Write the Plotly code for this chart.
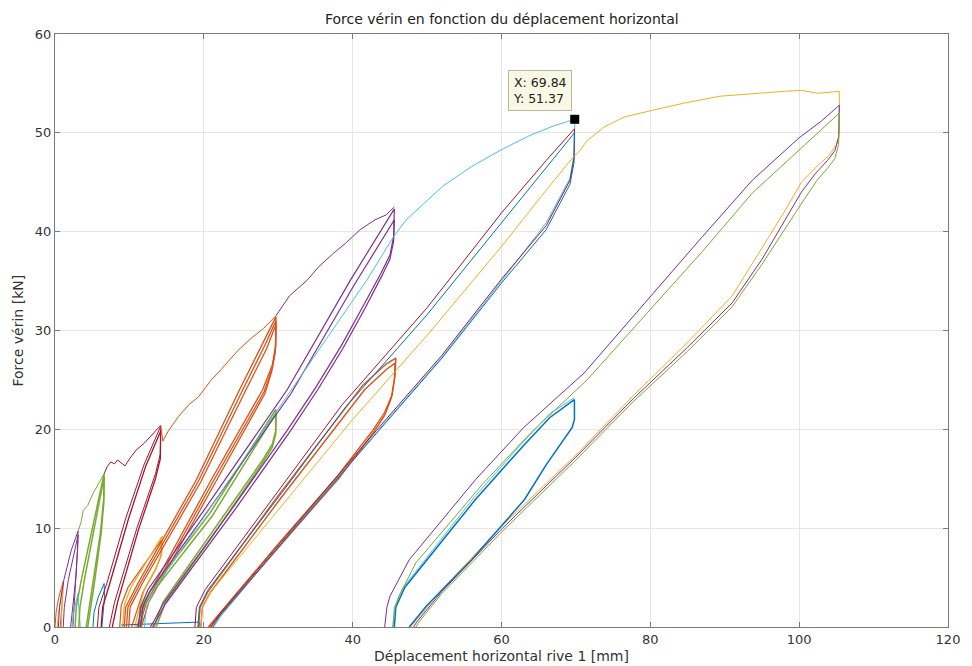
import plotly.graph_objects as go

# MATLAB default line colours
BLUE = "#0072BD"
ORANGE = "#D95319"
YELLOW = "#EDB120"
PURPLE = "#7E2F8E"
GREEN = "#77AC30"
LBLUE = "#4DBEEE"
DRED = "#A2142F"

# --- measured cycles (displacement mm, force kN), read off the plot ---
# level ~4 kN
orange_4 = [(0, 0), (0.15, 1.5), (0.5, 3.0), (1.1, 4.6), (1.05, 3.4), (0.9, 1.8), (0.7, 0)]
yellow_4 = [(0.3, 0), (0.45, 1.3), (0.75, 2.8), (1.0, 4.1), (0.98, 3.0), (0.92, 1.5), (0.85, 0)]
# level ~10 kN
purple_10a = [(0.45, 0), (0.6, 2), (1.2, 4.8), (2.2, 7.8), (3.1, 9.7), (3.05, 8.0), (2.8, 5.0), (2.4, 2.0), (2.1, 0)]
purple_10b = [(1.1, 0), (1.25, 2), (1.8, 4.8), (2.6, 7.8), (3.1, 9.3), (3.0, 7.5), (2.7, 3.5), (2.4, 0)]
lblue_3 = [(2.3, 0), (2.45, 1.3), (2.8, 2.5), (3.1, 3.4), (3.15, 2.5), (3.3, 1.2), (3.4, 0)]
# level ~15 kN
green_env = [(3.1, 9.7), (3.5, 10.6), (3.8, 11.8), (4.4, 12.3), (5.1, 13.5), (5.8, 14.4), (6.6, 15.5)]
green_15a = [(2.7, 0), (2.85, 2), (3.6, 5), (5.0, 10), (6.6, 15.5), (6.55, 13), (6.1, 9.5), (5.1, 4.5), (4.2, 0)]
green_15b = [(3.2, 0), (3.35, 2), (4.0, 5), (5.3, 10), (6.6, 15.2), (6.55, 12.5), (6.2, 9.5), (5.3, 4.5), (4.4, 0)]
blue_4 = [(5.1, 0), (5.25, 1.5), (5.8, 3.0), (6.6, 4.4), (6.65, 3.0), (6.5, 1.5), (6.3, 0)]
# level ~20 kN
dred_env = [(6.6, 15.5), (7.0, 16.2), (7.5, 16.7), (8.0, 16.5), (8.4, 16.9), (9.0, 16.5), (9.4, 16.3),
            (10.0, 17.0), (10.9, 17.9), (12.0, 18.6), (13.0, 19.4), (14.2, 20.4)]
dred_20a = [(5.7, 0), (5.9, 2), (7.0, 4.5), (9.5, 11), (12, 16.5), (14.2, 20.3), (14.15, 17.5),
            (13.5, 15.5), (11, 10), (8, 2.5), (7.3, 0)]
dred_20b = [(6.2, 0), (6.4, 2), (7.4, 4.5), (9.9, 11), (12.2, 16.3), (14.2, 19.8), (14.15, 17),
            (13.5, 15), (11.2, 9.8), (8.4, 2.5), (7.7, 0)]
orange_9 = [(8.7, 0), (8.9, 2.2), (9.8, 4.0), (12.0, 6.3), (14.3, 8.8), (14.25, 7.2), (13.5, 5.8), (11.8, 3.5), (10.3, 0)]
yellow_9 = [(9.1, 0), (9.3, 2.2), (10.2, 4.0), (12.2, 6.5), (14.4, 9.2), (14.35, 7.5), (13.6, 6.0), (12.0, 3.8), (10.7, 0)]
blue_base = [(8.9, 0.2), (19.4, 0.5), (19.5, 0)]
# level ~31 kN
orange_env = [(14.2, 20.4), (14.5, 18.8), (15.2, 19.8), (16.6, 21.3), (18.0, 22.5), (19.3, 23.3), (21.0, 25.0),
              (22.5, 26.2), (24.6, 28.0), (26.5, 29.3), (28.0, 30.2), (29.7, 31.5)]
orange_31a = [(9.3, 0), (9.5, 2.0), (11.2, 4.5), (19.0, 14.9), (24.8, 24.0), (28.0, 28.9), (29.7, 31.4), (29.65, 28.5),
              (29.2, 26.5), (27.9, 24.0), (21.0, 14.9), (15.0, 6.6), (12.0, 2.5), (11.0, 0)]
orange_31b = [(9.6, 0), (9.8, 2.0), (11.5, 4.5), (19.3, 14.8), (25.1, 23.8), (28.2, 28.5), (29.7, 31.0), (29.65, 28.2),
              (29.2, 26.2), (28.1, 23.8), (21.3, 14.8), (15.3, 6.6), (12.3, 2.5), (11.3, 0)]
orange_31c = [(9.9, 0), (10.1, 2.0), (11.8, 4.5), (19.6, 14.7), (25.4, 23.6), (28.4, 28.1), (29.7, 30.6), (29.6, 27.8),
              (29.1, 25.8), (28.2, 23.6), (21.6, 14.7), (15.6, 6.6), (12.6, 2.5), (11.6, 0)]
green_22a = [(11.3, 0), (11.5, 1.8), (12.6, 3.4), (20.8, 11.5), (29.5, 21.8), (29.7, 22.0), (29.65, 19.8),
             (29.2, 18.5), (28, 17.0), (20.5, 9.0), (14.5, 2.5), (13.3, 0)]
green_22b = [(11.6, 0), (11.8, 1.8), (12.9, 3.3), (21.1, 11.2), (29.5, 21.4), (29.7, 21.6), (29.65, 19.5),
             (29.2, 18.2), (28, 16.7), (20.8, 8.8), (14.8, 2.4), (13.6, 0)]
# level ~42 kN
purple_env = [(29.7, 31.5), (31.5, 33.5), (33.9, 35.1), (35.5, 36.5), (37.4, 37.8), (39.0, 38.8), (41.0, 40.2),
              (43.0, 41.2), (44.5, 41.7), (45.6, 42.5)]
purple_42a = [(11.2, 0), (11.5, 2.0), (12.5, 3.8), (20, 11.8), (31.2, 24), (39.7, 35.1), (45.6, 42.3),
              (45.5, 39.5), (45.0, 37.6), (43.8, 35.8), (41.5, 32.6), (38.5, 28.5), (35.0, 24.2), (31.2, 19.9),
              (24.0, 12.2), (17.9, 5.8), (14.5, 2.3), (13.3, 0.6), (12.8, 0)]
purple_42b = [(11.5, 0), (11.8, 2.0), (12.8, 3.7), (20.4, 11.6), (31.7, 23.6), (40.2, 34.6), (45.6, 41.2),
              (45.5, 39.0), (45.0, 37.2), (43.9, 35.5), (41.7, 32.3), (38.7, 28.2), (35.3, 24.0), (31.5, 19.7),
              (24.3, 12.0), (18.2, 5.7), (14.8, 2.3), (13.6, 0.6), (13.1, 0)]
lblue_env = [(12.0, 0), (12.3, 2), (13.5, 4), (31.7, 24), (41.9, 35.1), (45.5, 39.5), (47.2, 41.2), (52.1, 44.6),
             (56, 46.6), (60, 48.3), (64, 49.8), (67, 50.7), (69.84, 51.37), (69.8, 48), (69.2, 45.4), (66, 40.9),
             (60, 35.0), (52, 27.3), (43.2, 19.7), (32, 9.9), (22.3, 1.1), (21.3, 0)]
# level ~27 kN
orange_27a = [(19.3, 0), (19.5, 2), (20.5, 3.5), (30, 13.3), (41.4, 24.5), (44.5, 26.6), (45.8, 27.2), (45.7, 25.5),
              (45.3, 23.5), (44.3, 21.7), (42.7, 19.9), (38, 15.3), (30, 8.4), (24, 3.0), (21.5, 0.8), (20.6, 0)]
orange_27b = [(19.6, 0), (19.8, 2), (20.8, 3.4), (30.3, 13.0), (41.6, 24.0), (44.6, 26.1), (45.7, 26.7), (45.6, 25.0),
              (45.2, 23.2), (44.3, 21.4), (42.8, 19.7), (38.2, 15.1), (30.2, 8.2), (24.2, 2.9), (21.7, 0.8), (20.8, 0)]
# level ~50 kN
dred_50 = [(18.8, 0), (19.0, 2.0), (20.2, 3.8), (30, 13.8), (38.6, 22.5), (50, 32.3), (60, 41.9), (66, 47.2),
           (69.8, 50.4), (69.75, 47.5), (69.2, 45.2), (66, 40.6), (60, 35.2), (52, 27.5), (43.2, 19.9), (32, 10),
           (22, 1.2), (21.0, 0)]
blue_50 = [(19.2, 0), (19.4, 2.0), (20.6, 3.8), (30.5, 13.6), (39, 22.2), (50, 31.6), (60, 40.9), (66, 46.4),
           (69.8, 50.0), (69.75, 47.0), (69.2, 44.8), (66, 40.2), (60, 34.8), (52, 27.2), (43.2, 19.6), (32, 9.8),
           (22.2, 1.2), (21.2, 0)]
yellow_54 = [(19.6, 0), (19.8, 2.0), (21.0, 3.6), (31, 12.8), (40, 21.0), (50, 29.5), (60, 38.5), (66, 44.2),
             (69.8, 47.7), (70.2, 47.9), (71.5, 49.2), (73.8, 50.6), (76.5, 51.6), (80.4, 52.3), (84.5, 53.0),
             (89.3, 53.7), (94, 54.0), (98, 54.2), (100.3, 54.3), (102.5, 54.0), (105.4, 54.2), (105.4, 50.0),
             (105.0, 48.8), (104.0, 47.7), (102.5, 46.7), (100.3, 45.0), (98, 42.0), (95, 38.4), (91, 33.5),
             (85, 28.8), (77.7, 23.4), (70, 17.4), (60, 10.2), (52, 3.8), (48.5, 0.6), (47.8, 0)]
# level ~23 kN
blue_23 = [(45.6, 0), (45.8, 2.0), (47.0, 4.0), (56.5, 12.9), (63, 18.4), (66.5, 21.2), (69.8, 23.0), (69.8, 21.0),
           (69.5, 20.2), (66, 16.4), (63.1, 12.9), (56, 6.8), (50, 2.2), (47.6, 0)]
lblue_23 = [(45.4, 0), (45.6, 2), (46.8, 4.0), (56.3, 13.1), (63, 18.8), (66.5, 21.6), (69.8, 23.2)]
# level ~53 kN
purple_53 = [(44.3, 0), (44.6, 2.0), (45.0, 3.1), (47.6, 6.8), (56.5, 14.9), (63, 20.2), (71.1, 25.7), (80.4, 33.8),
             (87, 39.5), (93.7, 45.2), (100, 49.5), (103, 51.2), (105.4, 52.8), (105.3, 49.5), (104.8, 48.2),
             (103.8, 47.2), (102.2, 45.9), (100.3, 44.0), (98, 41.0), (95, 37.2), (91, 32.8), (85, 28.3),
             (77.7, 23.1), (70, 17.2), (60, 9.9), (52, 3.6), (48.6, 0.5), (48.2, 0)]
green_52 = [(45.4, 0), (45.7, 2.0), (46.2, 3.1), (48.5, 6.5), (57.5, 14.5), (64, 19.7), (71.5, 25.0), (80.4, 32.4),
            (87, 38.0), (93.7, 43.9), (100, 48.3), (103, 50.3), (105.4, 52.0), (105.3, 48.8), (104.8, 47.4),
            (103.8, 46.4), (102.4, 45.2), (100.7, 43.3), (98, 40.2), (95, 36.7), (91, 32.4), (85, 27.9),
            (77.7, 22.8), (70, 16.9), (60, 9.6), (52, 3.4), (48.9, 0.5), (48.5, 0)]

# data tip
tip_x = 69.84
tip_y = 51.37

curves = [
    (orange_4, ORANGE, 1), (yellow_4, YELLOW, 1),
    (purple_10a, PURPLE, 1), (purple_10b, PURPLE, 1), (lblue_3, LBLUE, 1),
    (green_env, GREEN, 1), (green_15a, GREEN, 1.5), (green_15b, GREEN, 1.5), (blue_4, BLUE, 1),
    (dred_env, DRED, 1), (dred_20a, DRED, 1), (dred_20b, DRED, 1.3),
    (orange_9, ORANGE, 1.2), (yellow_9, YELLOW, 1.3), (blue_base, BLUE, 1),
    (orange_env, ORANGE, 1), (orange_31a, ORANGE, 1.3), (orange_31b, ORANGE, 1.3), (orange_31c, ORANGE, 1.3),
    (green_22a, GREEN, 1.5), (green_22b, GREEN, 1.5),
    (purple_env, PURPLE, 1), (purple_42a, PURPLE, 1.2), (purple_42b, PURPLE, 1.2), (lblue_env, LBLUE, 1),
    (orange_27a, ORANGE, 1.4), (orange_27b, ORANGE, 1.4),
    (dred_50, DRED, 1), (blue_50, BLUE, 1), (yellow_54, YELLOW, 1),
    (blue_23, BLUE, 1.5), (lblue_23, LBLUE, 1),
    (purple_53, PURPLE, 1), (green_52, GREEN, 1),
]

FONT = "DejaVu Sans"
fig = go.Figure()
for pts, col, w in curves:
    fig.add_trace(go.Scatter(x=[p[0] for p in pts], y=[p[1] for p in pts], mode="lines",
                             line=dict(color=col, width=w), showlegend=False, hoverinfo="skip"))

fig.add_trace(go.Scatter(x=[tip_x], y=[tip_y], mode="markers",
                         marker=dict(symbol="square", size=9, color="black"), showlegend=False))

axis_common = dict(showline=True, linecolor="#7a7a7a", linewidth=1, mirror="ticks", ticks="inside",
                   ticklen=5, tickcolor="#7a7a7a", showgrid=True, gridcolor="#e6e6e6", zeroline=False,
                   tickfont=dict(family=FONT, size=13, color="#333333"))
fig.update_xaxes(range=[0, 120], tick0=0, dtick=20, **axis_common)
fig.update_yaxes(range=[0, 60], tick0=0, dtick=10, **axis_common)

fig.add_annotation(x=tip_x, y=tip_y, xref="x", yref="y", text="X: 69.84<br>Y: 51.37", showarrow=False,
                   xanchor="right", yanchor="bottom", xshift=-3, yshift=8, align="left",
                   bgcolor="#f8f8e4", bordercolor="#b8b8a8", borderwidth=1, borderpad=4,
                   font=dict(family=FONT, size=12.5, color="#222222"))
fig.add_annotation(x=0.5, y=1, xref="paper", yref="paper", yanchor="bottom", yshift=5, showarrow=False,
                   text="Force vérin en fonction du déplacement horizontal",
                   font=dict(family=FONT, size=14, color="#222222"))
fig.add_annotation(x=0.5, y=0, xref="paper", yref="paper", yanchor="top", yshift=-19, showarrow=False,
                   text="Déplacement horizontal rive 1 [mm]", font=dict(family=FONT, size=14, color="#333333"))
fig.add_annotation(x=0, y=0.5, xref="paper", yref="paper", xanchor="right", xshift=-28, showarrow=False,
                   textangle=-90, text="Force vérin [kN]", font=dict(family=FONT, size=14, color="#333333"))

# page body adds an 8 px offset, so the figure is 8 px smaller and margins shifted
fig.update_layout(width=964, height=658, margin=dict(l=47, r=14, t=26, b=39),
                  paper_bgcolor="white", plot_bgcolor="white", showlegend=False)

fig.write_html("out.html")
